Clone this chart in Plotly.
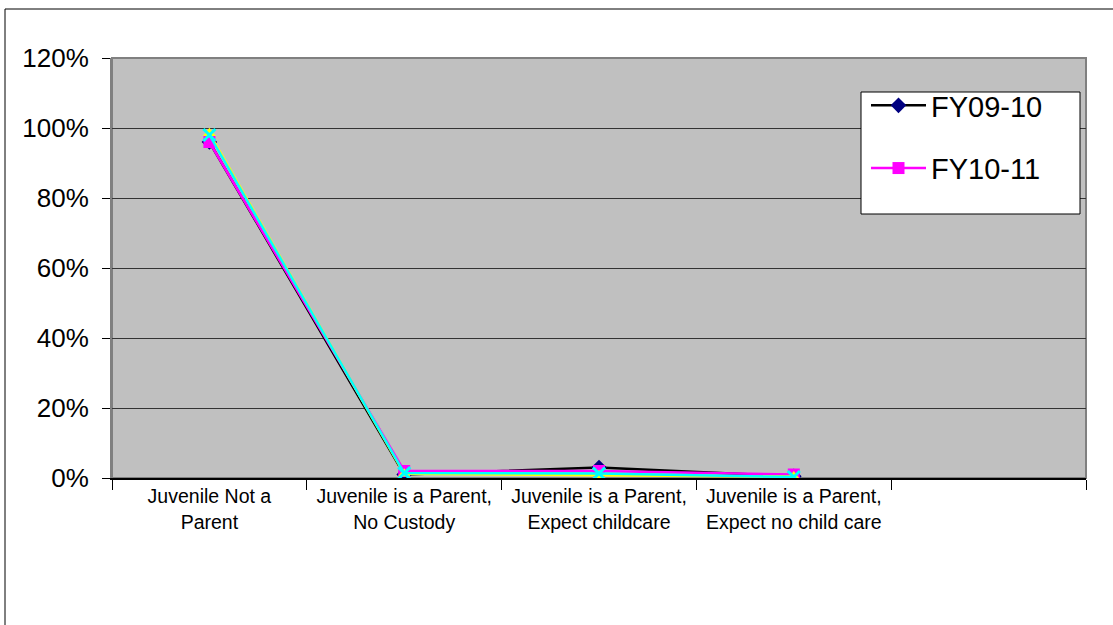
import plotly.graph_objects as go

categories = ["Juvenile Not a<br>Parent", "Juvenile is a Parent,<br>No Custody",
              "Juvenile is a Parent,<br>Expect childcare", "Juvenile is a Parent,<br>Expect no child care", " "]
data_categories = categories[:4]
fy0910 = [0.96, 0.01, 0.03, 0.005]
fy1011 = [0.96, 0.02, 0.02, 0.01]
fy1112 = [0.985, 0.012, 0.008, 0.004]
fy1213 = [0.98, 0.014, 0.013, 0.003]
ytick_vals = [0, 0.2, 0.4, 0.6, 0.8, 1.0, 1.2]
ytick_text = ["0%", "20%", "40%", "60%", "80%", "100%", "120%"]

W, H = 1113, 625
L, R, T, B = 112, 1086, 58, 478

fig = go.Figure()
fig.add_trace(go.Scatter(x=data_categories, y=fy0910, name="FY09-10", mode="lines+markers",
                         line=dict(color="#000000", width=2.5),
                         marker=dict(symbol="diamond", size=12, color="#000080"),
                         legendgroup="a"))
fig.add_trace(go.Scatter(x=data_categories, y=fy1011, name="FY10-11", mode="lines+markers",
                         line=dict(color="#FF00FF", width=2.5),
                         marker=dict(symbol="square", size=12, color="#FF00FF"),
                         legendgroup="b"))
fig.add_trace(go.Scatter(x=data_categories, y=fy1112, name="FY11-12", mode="lines+markers",
                         line=dict(color="#FFFF00", width=2.5),
                         marker=dict(symbol="triangle-up", size=11, color="#FFFF00"),
                         showlegend=False, legendgroup="c"))
fig.add_trace(go.Scatter(x=data_categories, y=fy1213, name="FY12-13", mode="lines+markers",
                         line=dict(color="#00FFFF", width=2.5),
                         marker=dict(symbol="x-thin", size=12, color="#00FFFF",
                                     line=dict(color="#00FFFF", width=3)),
                         showlegend=False, legendgroup="d"))

pw, ph = R - L, B - T
fig.add_shape(type="rect", xref="paper", yref="paper",
              x0=(5 - L) / pw, x1=(1125 - L) / pw,
              y0=(B - 640) / ph, y1=(B - 9) / ph,
              line=dict(color="#000000", width=1), fillcolor="rgba(0,0,0,0)", layer="below")
fig.add_shape(type="rect", xref="paper", yref="paper", x0=0, x1=1, y0=0, y1=1,
              line=dict(color="#808080", width=2), fillcolor="rgba(0,0,0,0)", layer="below")
# legend frame
fig.add_shape(type="rect", xref="paper", yref="paper",
              x0=(861 - L) / pw, x1=(1080 - L) / pw,
              y0=(B - 214) / ph, y1=(B - 92) / ph,
              line=dict(color="#000000", width=1), fillcolor="white", layer="above")

fig.update_layout(
    width=W, height=H,
    margin=dict(l=L, r=W - R, t=T, b=H - B, autoexpand=False),
    paper_bgcolor="white", plot_bgcolor="#C0C0C0",
    font=dict(family="Liberation Sans, Arial, sans-serif", color="black"),
    showlegend=True,
    legend=dict(x=(866 - L) / pw, y=(B - 80) / ph, xanchor="left", yanchor="top",
                bgcolor="rgba(0,0,0,0)", borderwidth=0,
                font=dict(size=29), traceorder="grouped", tracegroupgap=22,
                itemwidth=55),
    xaxis=dict(type="category", categoryorder="array", categoryarray=categories,
               range=[-0.5, 4.5], tickson="boundaries", ticks="outside", ticklen=10,
               tickcolor="black", showline=True, linecolor="black", linewidth=2,
               showgrid=False, tickfont=dict(size=19.5), tickangle=0, zeroline=False),
    yaxis=dict(range=[0, 1.2], tickvals=ytick_vals, ticktext=ytick_text,
               ticks="outside", ticklen=8, tickcolor="black",
               showline=True, linecolor="#808080", linewidth=2,
               showgrid=True, gridcolor="#333333", gridwidth=1,
               tickfont=dict(size=26), ticklabelstandoff=8, zeroline=False),
)

fig.write_html("out.html", config={"displayModeBar": False},
               post_script="document.body.style.margin='0px';")
